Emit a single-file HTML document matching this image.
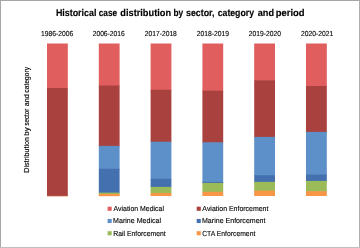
<!DOCTYPE html>
<html><head><meta charset="utf-8"><style>
html,body{margin:0;padding:0;background:#fff;}
body{width:360px;height:248px;overflow:hidden;position:relative;}
svg{position:absolute;left:0;top:0;display:block;will-change:transform;}
text{font-family:"Liberation Sans",sans-serif;fill:#000;}
.tt{text-rendering:geometricPrecision;stroke:#000;stroke-width:0.15px;}
.sm{text-rendering:geometricPrecision;stroke:#000;stroke-width:0.12px;}
</style></head><body>
<svg width="360" height="248" viewBox="0 0 360 248">
<rect x="0" y="0" width="360" height="1" fill="#A6A6A6"/><rect x="0" y="0" width="1" height="248" fill="#A6A6A6"/><rect x="359" y="0" width="1" height="248" fill="#B0B0B0"/><rect x="0" y="247" width="360" height="1" fill="#C0C0C0"/>
<text class="tt" x="55.88" y="15.5" textLength="40.49" lengthAdjust="spacingAndGlyphs" font-size="9.8" font-weight="bold">Historical</text><text class="tt" x="98.71" y="15.5" textLength="18.46" lengthAdjust="spacingAndGlyphs" font-size="9.8" font-weight="bold">case</text><text class="tt" x="120.34" y="15.5" textLength="50.70" lengthAdjust="spacingAndGlyphs" font-size="9.8" font-weight="bold">distribution</text><text class="tt" x="173.51" y="15.5" textLength="9.72" lengthAdjust="spacingAndGlyphs" font-size="9.8" font-weight="bold">by</text><text class="tt" x="186.03" y="15.5" textLength="28.52" lengthAdjust="spacingAndGlyphs" font-size="9.8" font-weight="bold">sector,</text><text class="tt" x="217.69" y="15.5" textLength="36.32" lengthAdjust="spacingAndGlyphs" font-size="9.8" font-weight="bold">category</text><text class="tt" x="257.72" y="15.5" textLength="16.31" lengthAdjust="spacingAndGlyphs" font-size="9.8" font-weight="bold">and</text><text class="tt" x="275.73" y="15.5" textLength="28.90" lengthAdjust="spacingAndGlyphs" font-size="9.8" font-weight="bold">period</text><text x="41.12" y="36" textLength="32.26" lengthAdjust="spacingAndGlyphs" font-size="7.3" class="sm">1986-2006</text><text x="92.69" y="36" textLength="32.06" lengthAdjust="spacingAndGlyphs" font-size="7.3" class="sm">2006-2016</text><text x="144.69" y="36" textLength="32.18" lengthAdjust="spacingAndGlyphs" font-size="7.3" class="sm">2017-2018</text><text x="196.69" y="36" textLength="32.32" lengthAdjust="spacingAndGlyphs" font-size="7.3" class="sm">2018-2019</text><text x="248.76" y="36" textLength="32.19" lengthAdjust="spacingAndGlyphs" font-size="7.3" class="sm">2019-2020</text><text x="300.89" y="36" textLength="32.30" lengthAdjust="spacingAndGlyphs" font-size="7.3" class="sm">2020-2021</text>
<g transform="translate(28.9,172.9) rotate(-90)" style="stroke:#000;stroke-width:0.15px"><text class="yl" x="0.15" y="0" textLength="35.77" lengthAdjust="spacingAndGlyphs" font-size="7">Distribution</text><text class="yl" x="37.20" y="0" textLength="8.40" lengthAdjust="spacingAndGlyphs" font-size="7">by</text><text class="yl" x="47.40" y="0" textLength="16.70" lengthAdjust="spacingAndGlyphs" font-size="7">sector</text><text class="yl" x="66.60" y="0" textLength="12.14" lengthAdjust="spacingAndGlyphs" font-size="7">and</text><text class="yl" x="80.28" y="0" textLength="25.70" lengthAdjust="spacingAndGlyphs" font-size="7">category</text></g>
<rect x="47.0" y="43.5" width="20.8" height="45.10" fill="#E05E5E"/><rect x="47.0" y="88" width="20.8" height="108.20" fill="#A9423F"/><rect x="47.0" y="195.9" width="20.8" height="0.30" fill="#F79646"/><rect x="98.8" y="43.5" width="20.8" height="42.60" fill="#E05E5E"/><rect x="98.8" y="85.5" width="20.8" height="61.00" fill="#A9423F"/><rect x="98.8" y="145.9" width="20.8" height="23.50" fill="#5D8FC8"/><rect x="98.8" y="168.8" width="20.8" height="24.40" fill="#4470B0"/><rect x="98.8" y="192.6" width="20.8" height="1.90" fill="#9BBB59"/><rect x="98.8" y="193.9" width="20.8" height="2.30" fill="#F79646"/><rect x="150.6" y="43.5" width="20.8" height="46.85" fill="#E05E5E"/><rect x="150.6" y="89.75" width="20.8" height="52.55" fill="#A9423F"/><rect x="150.6" y="141.7" width="20.8" height="37.70" fill="#5D8FC8"/><rect x="150.6" y="178.8" width="20.8" height="8.70" fill="#4470B0"/><rect x="150.6" y="186.9" width="20.8" height="6.70" fill="#9BBB59"/><rect x="150.6" y="193.0" width="20.8" height="3.00" fill="#F79646"/><rect x="202.4" y="43.5" width="20.8" height="47.80" fill="#E05E5E"/><rect x="202.4" y="90.7" width="20.8" height="52.20" fill="#A9423F"/><rect x="202.4" y="142.3" width="20.8" height="40.20" fill="#5D8FC8"/><rect x="202.4" y="181.9" width="20.8" height="1.60" fill="#4470B0"/><rect x="202.4" y="182.9" width="20.8" height="9.50" fill="#9BBB59"/><rect x="202.4" y="191.8" width="20.8" height="4.20" fill="#F79646"/><rect x="254.2" y="43.5" width="20.8" height="37.45" fill="#E05E5E"/><rect x="254.2" y="80.35" width="20.8" height="57.15" fill="#A9423F"/><rect x="254.2" y="136.9" width="20.8" height="38.80" fill="#5D8FC8"/><rect x="254.2" y="175.1" width="20.8" height="7.35" fill="#4470B0"/><rect x="254.2" y="181.85" width="20.8" height="9.35" fill="#9BBB59"/><rect x="254.2" y="190.6" width="20.8" height="5.40" fill="#F79646"/><rect x="306.0" y="43.5" width="20.8" height="43.10" fill="#E05E5E"/><rect x="306.0" y="86.0" width="20.8" height="46.50" fill="#A9423F"/><rect x="306.0" y="131.9" width="20.8" height="43.30" fill="#5D8FC8"/><rect x="306.0" y="174.6" width="20.8" height="6.90" fill="#4470B0"/><rect x="306.0" y="180.9" width="20.8" height="10.90" fill="#9BBB59"/><rect x="306.0" y="191.2" width="20.8" height="4.80" fill="#F79646"/>
<rect x="107.6" y="206.7" width="4.1" height="4.1" fill="#E05E5E"/><text x="113.58" y="211.10" textLength="50.37" lengthAdjust="spacingAndGlyphs" font-size="7.3" class="sm">Aviation Medical</text><rect x="107.6" y="218.95" width="4.1" height="4.1" fill="#5D8FC8"/><text x="113.11" y="223.35" textLength="47.89" lengthAdjust="spacingAndGlyphs" font-size="7.3" class="sm">Marine Medical</text><rect x="107.6" y="231.2" width="4.1" height="4.1" fill="#9BBB59"/><text x="113.30" y="235.60" textLength="52.39" lengthAdjust="spacingAndGlyphs" font-size="7.3" class="sm">Rail Enforcement</text><rect x="196.7" y="206.7" width="4.1" height="4.1" fill="#A9423F"/><text x="202.37" y="211.10" textLength="66.08" lengthAdjust="spacingAndGlyphs" font-size="7.3" class="sm">Aviation Enforcement</text><rect x="196.7" y="218.95" width="4.1" height="4.1" fill="#4470B0"/><text x="202.01" y="223.35" textLength="63.47" lengthAdjust="spacingAndGlyphs" font-size="7.3" class="sm">Marine Enforcement</text><rect x="196.7" y="231.2" width="4.1" height="4.1" fill="#F79646"/><text x="202.17" y="235.60" textLength="53.14" lengthAdjust="spacingAndGlyphs" font-size="7.3" class="sm">CTA Enforcement</text>
</svg>
</body></html>
